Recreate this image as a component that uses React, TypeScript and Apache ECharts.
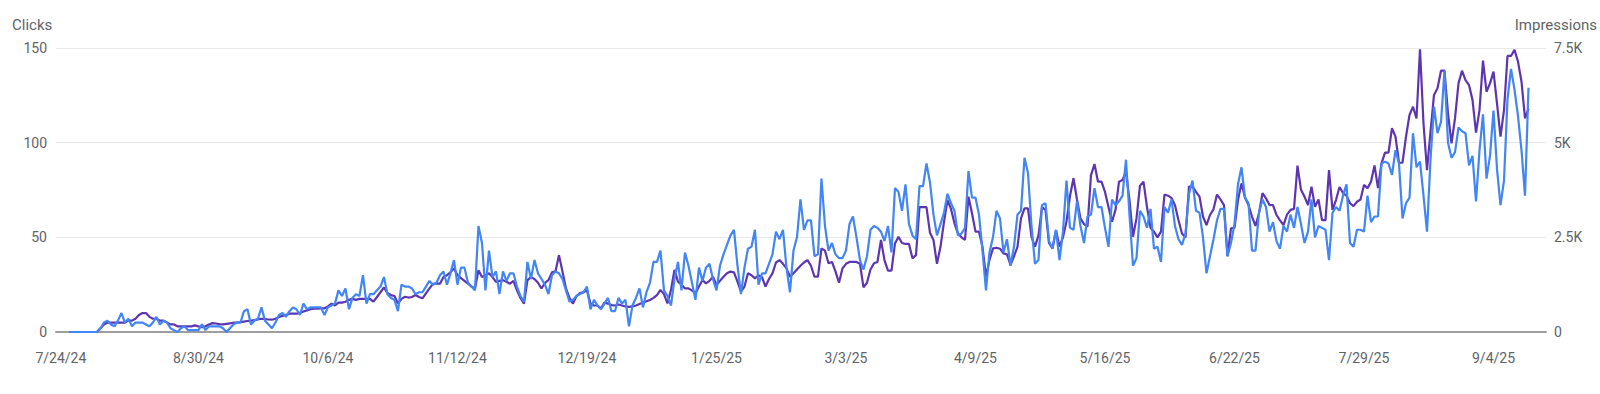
import React, { useEffect, useRef } from 'react';
import * as echarts from 'echarts';

// Day index (from 7/24/24) of each date tick, and its label
const tickDays = [0, 37, 74, 111, 148, 185, 222, 259, 296, 333, 370, 407];
const tickLabels = ['7/24/24', '8/30/24', '10/6/24', '11/12/24', '12/19/24', '1/25/25', '3/3/25', '4/9/25', '5/16/25', '6/22/25', '7/29/25', '9/4/25'];

// Daily clicks, 7/24/24 onward
const clicks = [
  0, 0, 0, 0, 0, 0, 0, 0, 0, 2,
  5, 6, 4, 3, 6, 10, 5, 7, 3, 5,
  5, 5, 4, 3, 5, 8, 4, 6, 5, 2,
  1, 0, 2, 3, 1, 1, 1, 1, 4, 1,
  3, 3, 3, 3, 2, 0, 2, 4, 5, 5,
  11, 12, 4, 6, 7, 13, 6, 4, 2, 5,
  9, 10, 8, 11, 13, 12, 9, 15, 12, 13,
  13, 13, 13, 9, 13, 14, 15, 22, 19, 23,
  12, 18, 20, 19, 30, 15, 20, 20, 22, 24,
  29, 20, 18, 17, 11, 25, 24, 24, 23, 20,
  21, 21, 24, 27, 25, 26, 30, 32, 25, 31,
  38, 25, 34, 34, 26, 24, 22, 56, 47, 22,
  43, 29, 32, 20, 32, 27, 31, 31, 24, 19,
  16, 37, 28, 38, 31, 28, 25, 20, 30, 32,
  31, 28, 22, 16, 17, 19, 20, 21, 24, 12,
  17, 14, 12, 15, 18, 11, 11, 18, 15, 17,
  3, 14, 18, 23, 13, 21, 26, 37, 37, 43,
  22, 19, 14, 28, 37, 22, 42, 35, 26, 17,
  34, 27, 34, 36, 28, 22, 35, 41, 46, 51,
  54, 35, 20, 34, 44, 45, 54, 25, 31, 31,
  36, 41, 53, 49, 54, 34, 21, 43, 50, 70,
  54, 59, 59, 40, 41, 81, 56, 43, 47, 41,
  39, 39, 43, 57, 61, 50, 38, 33, 40, 54,
  56, 55, 53, 48, 56, 42, 76, 74, 64, 78,
  57, 51, 49, 77, 77, 89, 79, 62, 51, 57,
  63, 73, 68, 64, 51, 52, 55, 85, 71, 71,
  62, 43, 22, 42, 50, 64, 60, 42, 49, 35,
  45, 62, 64, 92, 84, 56, 36, 38, 67, 68,
  48, 44, 54, 38, 53, 80, 55, 54, 69, 56,
  47, 61, 62, 76, 66, 66, 55, 45, 70, 67,
  69, 72, 91, 62, 35, 39, 64, 61, 55, 65,
  44, 45, 37, 66, 63, 70, 56, 49, 46, 52,
  73, 80, 64, 63, 50, 31, 40, 49, 59, 65,
  65, 40, 47, 57, 78, 87, 71, 68, 43, 43,
  63, 70, 66, 53, 58, 48, 44, 56, 53, 62,
  55, 66, 57, 47, 53, 70, 50, 56, 55, 54,
  38, 63, 66, 64, 72, 78, 47, 45, 54, 54,
  53, 72, 58, 61, 61, 89, 90, 89, 83, 96,
  89, 60, 68, 71, 105, 87, 90, 72, 53, 91,
  119, 105, 111, 138, 100, 92, 95, 108, 106, 105,
  88, 93, 69, 96, 115, 81, 93, 117, 86, 67,
  80, 123, 139, 128, 114, 96, 72, 129,
];

// Daily impressions, 7/24/24 onward
const impressions = [
  0, 0, 0, 0, 0, 0, 0, 0, 0, 100,
  200, 250, 250, 250, 250, 250, 250, 300, 300, 350,
  450, 500, 500, 400, 350, 350, 300, 300, 250, 200,
  200, 150, 150, 150, 150, 150, 175, 150, 130, 150,
  200, 235, 225, 210, 200, 215, 230, 245, 250, 260,
  275, 290, 300, 315, 335, 350, 340, 330, 325, 350,
  395, 425, 450, 485, 485, 485, 500, 540, 570, 600,
  615, 615, 625, 625, 675, 750, 700, 775, 775, 800,
  850, 875, 850, 875, 875, 875, 875, 800, 925, 1050,
  1175, 1025, 975, 950, 750, 875, 930, 910, 925, 975,
  925, 890, 1020, 1150, 1270, 1275, 1275, 1450, 1500, 1575,
  1680, 1500, 1425, 1350, 1275, 1200, 1150, 1630, 1450, 1500,
  1550, 1450, 1325, 1350, 1370, 1325, 1275, 1350, 1100, 900,
  750, 1370, 1450, 1400, 1300, 1150, 1300, 1370, 1575, 1600,
  2030, 1600, 1150, 900, 750, 950, 1025, 1050, 1100, 750,
  700, 700, 625, 775, 750, 710, 700, 725, 700, 675,
  665, 675, 700, 740, 775, 810, 845, 900, 975, 1110,
  1000, 755, 1110, 1640, 1330, 1250, 1150, 1150, 1100, 1020,
  1200, 1375, 1285, 1350, 1460, 1240, 1350, 1460, 1550, 1595,
  1575, 1330, 1065, 1200, 1550, 1500, 1415, 1500, 1450, 1200,
  1400, 1550, 1835, 1900, 1800, 1680, 1460, 1550, 1650, 1750,
  1835, 1900, 1750, 1460, 1460, 2210, 2150, 1815, 1850, 1600,
  1300, 1680, 1800, 1850, 1850, 1850, 1800, 1180, 1300, 1650,
  1815, 1850, 2430, 1900, 1620, 1620, 2340, 2515, 2350, 2325,
  2325, 1945, 2030, 3300, 3300, 3300, 2620, 2430, 1800, 2250,
  2900, 3485, 3250, 2870, 2600, 2500, 2430, 3575, 3135, 2650,
  2650, 2250, 1460, 1900, 2210, 2225, 2200, 2075, 2050, 1770,
  2000, 2250, 3000, 3265, 3265, 2515, 2255, 2550, 3300, 3225,
  2350, 2210, 2690, 2255, 2500, 2915, 3590, 4060, 3500, 3000,
  2850, 2780, 4145, 4435, 3970, 3970, 3700, 3300, 2915, 3225,
  3970, 4015, 4235, 3485, 2515, 3000, 3865, 3970, 3300, 2750,
  2650, 2500, 2650, 3630, 3600, 3540, 3350, 2950, 2600, 2500,
  3840, 3840, 3700, 3575, 3050, 2825, 3090, 3240, 3630, 3500,
  3350, 2000, 2735, 2750, 3485, 3925, 3550, 3355, 3050, 2800,
  3135, 3665, 3530, 3355, 3350, 3090, 2950, 2825, 3100, 3225,
  3250, 4395, 3755, 3575, 3355, 3840, 3305, 3500, 2955, 2955,
  4275, 3225, 3485, 3830, 3670, 3600, 3400, 3325, 3440, 3500,
  3885, 3800, 3970, 4400, 3800, 4455, 4735, 4735, 5380, 5160,
  4470, 4470, 5160, 5730, 5950, 5640, 7465, 5510, 4275, 5285,
  6260, 6435, 6900, 6900, 5775, 4980, 5640, 6565, 6900, 6650,
  6520, 6130, 5265, 5860, 7165, 6345, 6565, 6875, 6040, 5160,
  5860, 7290, 7290, 7450, 7140, 6610, 5640, 5900,
];

const TEXT = '#5f6368';
const FONT = 'Roboto, Arial, sans-serif';
// the first date label sits a little left of its tick in the original
const labelPos = tickDays.map((d, i) => (i === 0 ? -2.3 : d));

export default function App() {
  const ref = useRef<HTMLDivElement>(null);
  useEffect(() => {
    const chart = echarts.init(ref.current!, null, { renderer: 'svg' });
    const pairs = (arr: number[]) => arr.map((v, i) => [i, v]);
    chart.setOption({
      animation: false,
      textStyle: { fontFamily: FONT },
      grid: { left: 56, right: 54, top: 48, bottom: 62 },
      graphic: [
        { type: 'text', left: 12, top: 17, style: { text: 'Clicks', fill: TEXT, font: `15px ${FONT}` } },
        { type: 'text', right: 3, top: 17, style: { text: 'Impressions', fill: TEXT, font: `15px ${FONT}` } },
      ],
      xAxis: {
        type: 'value',
        min: -3.7,
        max: 422,
        axisLine: { show: true, lineStyle: { color: '#9e9e9e', width: 2 } },
        axisTick: { show: false },
        splitLine: { show: false },
        axisLabel: {
          customValues: labelPos,
          formatter: (v: number) => {
            const k = labelPos.findIndex((p) => Math.abs(p - v) < 0.01);
            return k >= 0 ? tickLabels[k] : '';
          },
          color: TEXT,
          fontSize: 14,
          margin: 19,
          fontFamily: FONT,
        },
      },
      yAxis: [
        {
          type: 'value', min: 0, max: 150, interval: 50,
          axisLine: { show: false }, axisTick: { show: false },
          splitLine: { lineStyle: { color: '#e8e8e8', width: 1 } },
          axisLabel: { color: TEXT, fontSize: 14, margin: 9, fontFamily: FONT },
        },
        {
          type: 'value', min: 0, max: 7500, interval: 2500,
          axisLine: { show: false }, axisTick: { show: false },
          splitLine: { show: false },
          axisLabel: {
            color: TEXT, fontSize: 14, margin: 8, fontFamily: FONT,
            formatter: (v: number) => (v === 0 ? '0' : `${v / 1000}K`),
          },
        },
      ],
      series: [
        {
          name: 'Impressions', type: 'line', yAxisIndex: 1, data: pairs(impressions),
          showSymbol: false, lineStyle: { color: '#5e35b1', width: 2.2 }, itemStyle: { color: '#5e35b1' },
        },
        {
          name: 'Clicks', type: 'line', yAxisIndex: 0, data: pairs(clicks),
          showSymbol: false, lineStyle: { color: '#4285f4', width: 2.2 }, itemStyle: { color: '#4285f4' },
        },
      ],
    });
    return () => chart.dispose();
  }, []);
  return <div ref={ref} style={{ position: 'absolute', left: 0, top: 0, width: 1600, height: 394 }} />;
}
